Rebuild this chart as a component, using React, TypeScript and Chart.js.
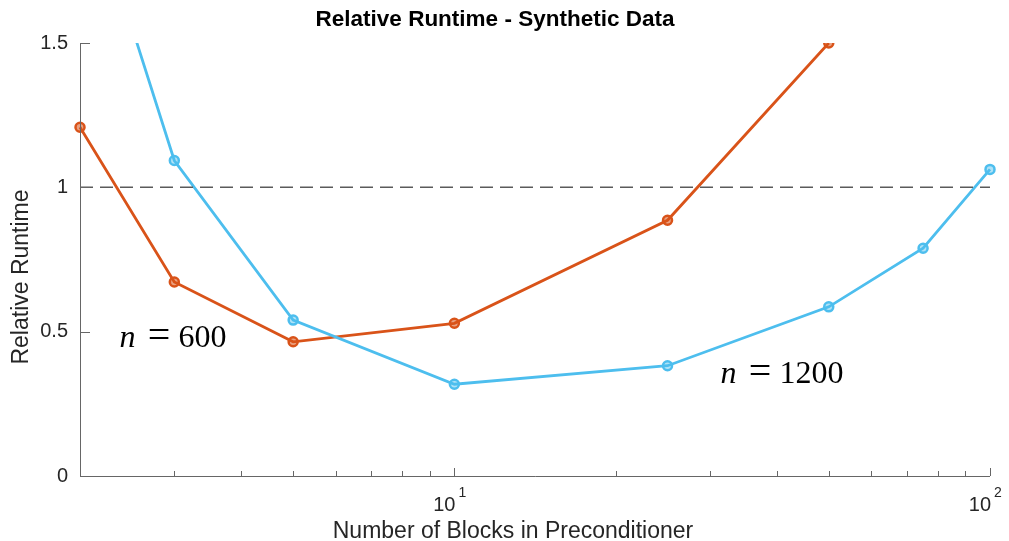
import React, { useEffect, useRef } from "react";
import { Chart, registerables } from "chart.js";

Chart.register(...registerables);

// Block counts on the (logarithmic) x axis
const blocks = [2, 3, 5, 10, 25, 50, 75, 100];
// Relative runtime for each problem size
const runtimeN600 = [1.208, 0.672, 0.465, 0.529, 0.886, 1.5];
const runtimeN1200 = [2.12, 1.093, 0.54, 0.318, 0.382, 0.586, 0.789, 1.062];
// Reference level (runtime ratio of one)
const baselineX = [2, 100];
const baselineY = [1, 1];

const yTicks = [0, 0.5, 1, 1.5];
const xMajorTicks = [10, 100];
const xMinorTicks = [3, 4, 5, 6, 7, 8, 9, 20, 30, 40, 50, 60, 70, 80, 90];

// In-plot annotations naming each curve
const curveLabels = ["600", "1200"];
const curveLabelX = [2.37, 31.4];
const curveLabelY = [0.446, 0.322];

const ORANGE = "#D95319";
const BLUE = "#4DBEEE";
const SANS = "'Liberation Sans', Arial, Helvetica, sans-serif";
const SERIF = "'Liberation Serif', 'Times New Roman', serif";
const TEXT = "#262626";

const axesPlugin = {
  id: "matlabAxes",
  afterDraw(chart: any) {
    const { ctx, chartArea: a, scales } = chart;
    const x = scales.x;
    const y = scales.y;
    ctx.save();

    // axis lines (left and bottom only)
    ctx.strokeStyle = "#666666";
    ctx.lineWidth = 1;
    ctx.beginPath();
    ctx.moveTo(a.left + 0.5, a.top);
    ctx.lineTo(a.left + 0.5, a.bottom + 0.5);
    ctx.lineTo(a.right, a.bottom + 0.5);
    // inward y ticks
    yTicks.forEach((v) => {
      const py = Math.round(y.getPixelForValue(v)) + 0.5;
      ctx.moveTo(a.left, py);
      ctx.lineTo(a.left + 10, py);
    });
    // inward x ticks
    xMajorTicks.forEach((v) => {
      const px = Math.round(x.getPixelForValue(v)) + 0.5;
      ctx.moveTo(px, a.bottom);
      ctx.lineTo(px, a.bottom - 8);
    });
    xMinorTicks.forEach((v) => {
      const px = Math.round(x.getPixelForValue(v)) + 0.5;
      ctx.moveTo(px, a.bottom);
      ctx.lineTo(px, a.bottom - 5);
    });
    ctx.stroke();

    // x tick labels as powers of ten
    ctx.fillStyle = TEXT;
    ctx.textBaseline = "alphabetic";
    xMajorTicks.forEach((v) => {
      const px = x.getPixelForValue(v);
      ctx.font = `20px ${SANS}`;
      ctx.textAlign = "right";
      ctx.fillText("10", px + 1, a.bottom + 35);
      ctx.font = `14px ${SANS}`;
      ctx.textAlign = "left";
      ctx.fillText(String(Math.round(Math.log10(v))), px + 4, a.bottom + 21);
    });

    // axis titles
    ctx.font = `23px ${SANS}`;
    ctx.textAlign = "center";
    ctx.textBaseline = "middle";
    ctx.fillText("Number of Blocks in Preconditioner", 513, 532);
    ctx.save();
    ctx.translate(22, 277);
    ctx.rotate(-Math.PI / 2);
    ctx.fillText("Relative Runtime", 0, 0);
    ctx.restore();

    // curve annotations: italic n, equals sign, value
    ctx.fillStyle = "#000";
    ctx.textBaseline = "alphabetic";
    curveLabels.forEach((label, i) => {
      const px = x.getPixelForValue(curveLabelX[i]);
      const py = y.getPixelForValue(curveLabelY[i]);
      ctx.textAlign = "left";
      ctx.font = `italic 32px ${SERIF}`;
      ctx.fillText("n", px, py);
      ctx.textAlign = "center";
      ctx.font = `40px ${SERIF}`;
      ctx.fillText("=", px + 39.5, py + 1);
      ctx.textAlign = "left";
      ctx.font = `32px ${SERIF}`;
      ctx.fillText(label, px + 59, py);
    });

    ctx.restore();
  },
};

export default function App() {
  const canvasRef = useRef<HTMLCanvasElement | null>(null);

  useEffect(() => {
    const canvas = canvasRef.current;
    if (!canvas) return;
    const clip = { left: false, right: false, top: 0, bottom: false } as any;
    const chart = new Chart(canvas, {
      type: "line",
      data: {
        datasets: [
          {
            label: "n = 600",
            data: runtimeN600.map((v, i) => ({ x: blocks[i], y: v })),
            borderColor: ORANGE,
            backgroundColor: "rgba(217,83,25,0.55)",
            borderWidth: 2.8,
            pointRadius: 4.5,
            pointBorderWidth: 2.5,
            pointBackgroundColor: "rgba(217,83,25,0.55)",
            pointBorderColor: ORANGE,
            order: 3,
            clip,
          },
          {
            label: "n = 1200",
            data: runtimeN1200.map((v, i) => ({ x: blocks[i], y: v })),
            borderColor: BLUE,
            backgroundColor: "rgba(77,190,238,0.45)",
            borderWidth: 2.8,
            pointRadius: 4.5,
            pointBorderWidth: 2.5,
            pointBackgroundColor: "rgba(77,190,238,0.45)",
            pointBorderColor: BLUE,
            order: 2,
            clip,
          },
          {
            label: "baseline",
            data: baselineX.map((bx, i) => ({ x: bx, y: baselineY[i] })),
            borderColor: "#5a5a5a",
            borderWidth: 1.5,
            borderDash: [13, 7],
            pointRadius: 0,
            order: 1,
            clip,
          },
        ],
      },
      options: {
        animation: false,
        responsive: false,
        maintainAspectRatio: false,
        layout: { padding: { left: 0, right: 19, top: 0, bottom: 0 } },
        plugins: {
          legend: { display: false },
          tooltip: { enabled: false },
          title: {
            display: true,
            text: "Relative Runtime - Synthetic Data",
            color: "#000",
            font: { family: SANS, size: 22.5, weight: "bold", lineHeight: 1.2 },
            padding: { top: 6, bottom: 10 },
          },
        },
        scales: {
          x: {
            type: "logarithmic",
            min: 2,
            max: 100,
            grid: { display: false, drawTicks: false },
            border: { display: false },
            ticks: { display: false },
            afterFit(s: any) {
              s.height = 65;
            },
          },
          y: {
            type: "linear",
            min: 0,
            max: 1.5,
            afterBuildTicks(s: any) {
              s.ticks = yTicks.map((v) => ({ value: v }));
            },
            grid: { display: false, drawTicks: false },
            border: { display: false },
            ticks: {
              color: TEXT,
              padding: 12,
              font: { family: SANS, size: 20 },
              callback: (v: any) => String(v),
            },
            afterFit(s: any) {
              s.width = 80;
            },
          },
        },
      } as any,
      plugins: [axesPlugin],
    });
    return () => chart.destroy();
  }, []);

  return (
    <div style={{ position: "fixed", left: 0, top: 0, width: 1009, height: 541, background: "#fff" }}>
      <canvas ref={canvasRef} width={1009} height={541} style={{ display: "block" }} />
    </div>
  );
}
